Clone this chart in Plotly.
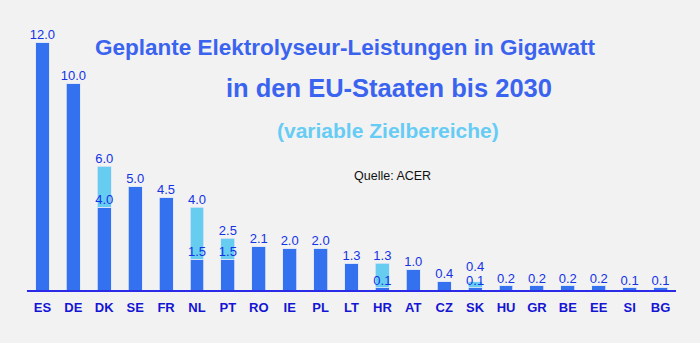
import plotly.graph_objects as go

countries = ["ES", "DE", "DK", "SE", "FR", "NL", "PT", "RO", "IE", "PL", "LT",
             "HR", "AT", "CZ", "SK", "HU", "GR", "BE", "EE", "SI", "BG"]
low_gw = [12.0, 10.0, 4.0, 5.0, 4.5, 1.5, 1.5, 2.1, 2.0, 2.0, 1.3,
          0.1, 1.0, 0.4, 0.1, 0.2, 0.2, 0.2, 0.2, 0.1, 0.1]
high_gw = [None, None, 6.0, None, None, 4.0, 2.5, None, None, None, None,
           1.3, None, None, 0.4, None, None, None, None, None, None]

DARK = "#3471ef"
LIGHT = "#66cdf0"
LABEL = "#1432e6"
EDGE = "#dfe6f7"

extra = [(h - l) if h is not None else 0 for h, l in zip(high_gw, low_gw)]

fig = go.Figure()
fig.add_trace(go.Bar(x=countries, y=low_gw, marker=dict(color=DARK, line=dict(width=0.8, color=EDGE)),
                     width=0.45, hoverinfo="skip"))
fig.add_trace(go.Bar(x=countries, y=extra, marker=dict(color=LIGHT, line=dict(width=0.8, color=EDGE)),
                     width=0.45, hoverinfo="skip"))

label_font = dict(family="Liberation Sans, Arial", size=13, color=LABEL)
fig.add_trace(go.Scatter(x=countries, y=low_gw, mode="text",
                         text=[f"{v:.1f}" for v in low_gw], textposition="top center",
                         textfont=label_font, cliponaxis=False, hoverinfo="skip"))
hx = [c for c, h in zip(countries, high_gw) if h is not None]
hv = [h for h in high_gw if h is not None]
# keep the upper label clear of the lower label when the range is narrow
hy = [max(h, l + 0.68) for h, l in zip(high_gw, low_gw) if h is not None]
fig.add_trace(go.Scatter(x=hx, y=hy, mode="text",
                         text=[f"{v:.1f}" for v in hv], textposition="top center",
                         textfont=label_font, cliponaxis=False, hoverinfo="skip"))

L, R, T, B = 27, 24, 42, 53
fig.update_layout(
    barmode="stack",
    width=700, height=343,
    margin=dict(l=L, r=R, t=T, b=B),
    paper_bgcolor="#f2f2f2", plot_bgcolor="#f2f2f2",
    showlegend=False,
    xaxis=dict(range=[-0.5, len(countries) - 0.5], showgrid=False, showline=True,
               linecolor="#2a2ae8", linewidth=2,
               ticks="", ticklabelstandoff=4,
               tickfont=dict(family="Liberation Sans, Arial", size=13, color="#1414d4", weight="bold"),
               fixedrange=True),
    yaxis=dict(range=[0, 12], visible=False, showgrid=False, zeroline=False, fixedrange=True),
    font=dict(family="Liberation Sans, Arial"),
)

fig.add_annotation(x=345, y=48, text="<b>Geplante Elektrolyseur-Leistungen in Gigawatt</b>",
                   showarrow=False, font=dict(size=22.5, color="#3a63f0"))
fig.add_annotation(x=389, y=88, text="<b>in den EU-Staaten bis 2030</b>",
                   showarrow=False, font=dict(size=25.5, color="#3a63f0"))
fig.add_annotation(x=388, y=130, text="<b>(variable Zielbereiche)</b>",
                   showarrow=False, font=dict(size=21, color="#66ccf5"))
fig.add_annotation(x=393, y=176, text="Quelle: ACER",
                   showarrow=False, font=dict(size=12.5, color="#111111"))

# convert pixel positions to paper coordinates
pw, ph = 700 - L - R, 343 - T - B
for a in fig.layout.annotations:
    px, py = a.x, a.y
    a.xref = "paper"; a.yref = "paper"
    a.x = (px - L) / pw
    a.y = (343 - B - py) / ph
    a.xanchor = "center"; a.yanchor = "middle"

fig.write_html("out.html")
